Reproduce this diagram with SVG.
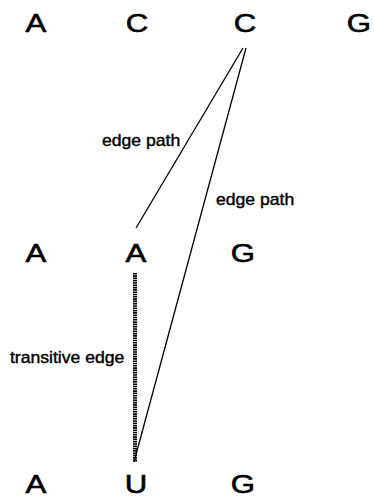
<svg xmlns="http://www.w3.org/2000/svg" width="374" height="499" viewBox="0 0 374 499">
<style>
.n{font-family:"Liberation Sans",Arial,sans-serif;font-size:26px;fill:#000;stroke:#000;stroke-width:0.6;text-anchor:middle}
.l{font-family:"Liberation Sans",Arial,sans-serif;font-size:16px;fill:#000;stroke:#000;stroke-width:0.4}
.e{stroke:#000;stroke-width:1.3;fill:none}
.t{stroke:#000;stroke-width:4;stroke-dasharray:1.6 0.7;fill:none}
</style>
<rect width="374" height="499" fill="#fff"/>
<g id="connectors">
<line class="e" x1="243" y1="48" x2="136" y2="228"/>
<line class="e" x1="246" y1="48" x2="134" y2="462"/>
<line class="t" x1="135" y1="273" x2="135" y2="462"/>
</g>
<g id="labels">
<text class="l" x="102" y="146" transform="translate(102 0) scale(1.1 1) translate(-102 0)">edge path</text>
<text class="l" x="216" y="205" transform="translate(216 0) scale(1.1 1) translate(-216 0)">edge path</text>
<text class="l" x="10" y="363" transform="translate(10 0) scale(1.1 1) translate(-10 0)">transitive edge</text>
</g>
<g id="n-top-A"><text class="n" x="36" y="32" transform="translate(36 0) scale(1.2 1) translate(-36 0)">A</text></g>
<g id="n-top-C1"><text class="n" x="137" y="32" transform="translate(137 0) scale(1.2 1) translate(-137 0)">C</text></g>
<g id="n-top-C2"><text class="n" x="245" y="32" transform="translate(245 0) scale(1.2 1) translate(-245 0)">C</text></g>
<g id="n-top-G"><text class="n" x="359" y="32" transform="translate(359 0) scale(1.2 1) translate(-359 0)">G</text></g>
<g id="n-mid-A1"><text class="n" x="36" y="262" transform="translate(36 0) scale(1.2 1) translate(-36 0)">A</text></g>
<g id="n-mid-A2"><text class="n" x="136" y="262" transform="translate(136 0) scale(1.2 1) translate(-136 0)">A</text></g>
<g id="n-mid-G"><text class="n" x="243" y="262" transform="translate(243 0) scale(1.2 1) translate(-243 0)">G</text></g>
<g id="n-bot-A"><text class="n" x="36" y="493" transform="translate(36 0) scale(1.2 1) translate(-36 0)">A</text></g>
<g id="n-bot-U"><text class="n" x="136" y="493" transform="translate(136 0) scale(1.2 1) translate(-136 0)">U</text></g>
<g id="n-bot-G"><text class="n" x="243" y="493" transform="translate(243 0) scale(1.2 1) translate(-243 0)">G</text></g>
</svg>
